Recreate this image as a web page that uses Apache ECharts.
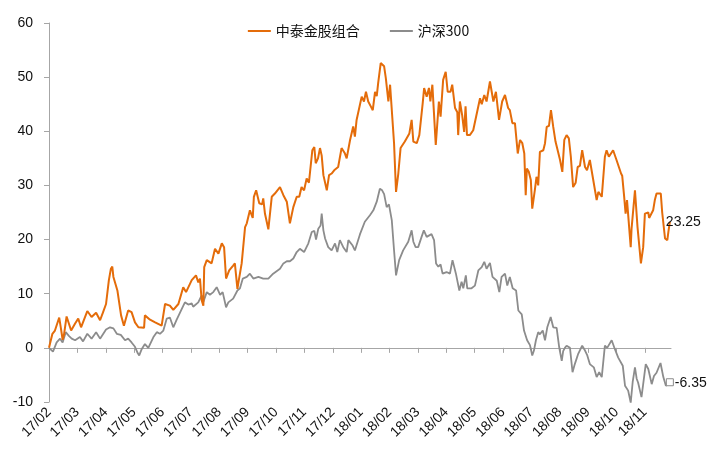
<!DOCTYPE html>
<html>
<head>
<meta charset="utf-8">
<script src="https://cdn.jsdelivr.net/npm/echarts@6/dist/echarts.min.js"></script>
<style>
  html, body { margin: 0; padding: 0; background: #fff; }
  #chart { width: 717px; height: 462px; }
</style>
</head>
<body>
<div id="chart"></div>
<script>
// month tick labels, x values are in months since 17/02
var monthLabels = ["17/02","17/03","17/04","17/05","17/06","17/07","17/08","17/09","17/10","17/11","17/12",
  "18/01","18/02","18/03","18/04","18/05","18/06","18/07","18/08","18/09","18/10","18/11"];

// 中泰金股组合 (cumulative return, %)
var portfolioT = [0,0.12,0.21,0.36,0.42,0.48,0.53,0.62,0.78,0.92,1.03,1.13,1.35,1.50,1.66,1.80,1.90,2.01,2.11,2.18,
  2.23,2.27,2.41,2.54,2.64,2.79,2.91,3.03,3.15,3.35,3.38,3.56,3.74,3.97,4.09,4.26,4.38,4.56,4.73,4.83,
  5.03,5.18,5.26,5.32,5.38,5.44,5.47,5.56,5.61,5.73,5.85,5.97,6.09,6.17,6.24,6.35,6.49,6.55,6.64,6.67,
  6.79,6.91,6.97,7.08,7.18,7.22,7.30,7.41,7.51,7.55,7.61,7.73,7.85,7.96,8.14,8.26,8.38,8.49,8.61,8.73,
  8.82,8.90,8.99,9.08,9.16,9.28,9.35,9.40,9.48,9.55,9.61,9.67,9.79,9.87,9.96,10.05,10.11,10.19,10.31,10.42,
  10.49,10.61,10.72,10.78,10.84,11.02,11.10,11.17,11.25,11.34,11.41,11.49,11.55,11.60,11.69,11.74,11.81,11.87,11.96,12.02,
  12.08,12.16,12.23,12.31,12.39,12.54,12.70,12.78,12.84,12.96,13.05,13.17,13.22,13.31,13.39,13.44,13.51,13.63,13.74,13.80,
  13.89,13.98,14.05,14.15,14.21,14.31,14.39,14.42,14.48,14.56,14.63,14.68,14.73,14.83,14.95,15.19,15.25,15.34,15.42,15.54,
  15.66,15.75,15.86,15.97,16.07,16.18,16.24,16.33,16.42,16.52,16.60,16.68,16.75,16.80,16.84,16.91,16.98,17.03,17.12,17.18,
  17.24,17.30,17.42,17.48,17.54,17.62,17.69,17.77,17.85,17.92,18.01,18.09,18.16,18.24,18.32,18.39,18.47,18.56,18.63,18.71,
  18.79,18.89,18.96,19.06,19.18,19.30,19.36,19.48,19.59,19.65,19.73,19.88,20.00,20.16,20.20,20.27,20.32,20.37,20.50,20.53,
  20.65,20.74,20.86,20.94,21.00,21.12,21.15,21.20,21.29,21.35,21.41,21.56,21.61,21.71,21.79,21.83,21.88];
var portfolioV = [0,2.6,3.2,5.6,3.6,1.5,2.5,5.8,3.2,4.5,5.4,3.8,6.8,5.7,6.5,5.1,6.5,8.1,12.5,14.6,
  15.0,13.1,10.6,6.0,4.1,6.9,6.6,4.7,3.8,3.7,6.0,5.2,4.7,4.1,8.1,7.8,7.0,8.1,11.2,10.3,
  12.5,13.4,12.1,12.8,8.8,7.8,14.9,16.2,15.9,15.6,18.3,17.4,19.3,18.6,12.8,14.3,15.2,15.6,10.9,11.9,
  15.6,22.3,23.0,25.4,24.0,27.9,29.1,26.7,26.5,27.6,24.8,21.9,27.9,28.5,29.7,28.2,27.0,23.0,26.0,27.9,
  27.9,29.7,29.1,31.3,30.5,36.5,37.1,34.1,35.0,36.9,35.5,31.9,29.1,31.9,32.2,32.8,32.5,33.4,36.9,36.0,
  35.0,38.4,40.9,39.0,42.1,46.4,45.5,47.3,45.5,44.6,43.9,47.3,46.5,48.9,52.6,52.9,52.0,49.8,45.5,48.6,
  48.9,37.8,28.8,32.2,36.9,38.1,39.6,42.1,38.1,37.8,39.3,45.2,48.0,46.4,48.0,45.5,48.6,37.5,45.5,42.7,
  49.5,51.0,47.3,47.3,48.6,44.3,43.5,39.3,45.5,43.0,39.9,44.6,39.3,39.3,40.2,46.1,45.0,46.7,45.5,49.2,
  45.5,47.3,42.1,45.5,46.7,44.3,43.9,41.5,41.5,35.9,38.4,37.8,35.9,28.2,33.1,32.5,31.0,25.7,29.1,31.6,
  30.0,36.2,36.5,37.8,40.8,41.0,43.9,40.8,38.1,37.8,34.7,32.5,38.4,39.3,38.7,35.3,29.7,30.5,33.4,33.6,
  36.5,33.4,32.8,34.7,31.0,27.3,28.8,27.9,35.3,36.5,35.3,36.5,34.7,32.2,31.8,27.9,24.8,27.3,18.6,22.0,
  29.1,22.3,15.6,18.6,24.8,25.0,24.0,23.9,25.4,27.3,28.5,28.5,25.0,20.2,19.9,21.5,23.25];

// 沪深300 (cumulative return, %)
var indexT = [0,0.14,0.27,0.39,0.48,0.59,0.70,0.80,0.92,1.09,1.20,1.35,1.50,1.66,1.80,2.01,2.15,2.27,2.39,2.53,
  2.68,2.79,2.91,3.03,3.13,3.18,3.27,3.38,3.50,3.68,3.80,3.91,4.03,4.15,4.26,4.38,4.50,4.68,4.79,4.91,
  5.03,5.08,5.26,5.38,5.44,5.56,5.67,5.79,5.91,6.03,6.12,6.24,6.32,6.49,6.64,6.73,6.83,6.97,7.08,7.20,
  7.38,7.55,7.73,7.90,8.14,8.26,8.38,8.49,8.61,8.73,8.84,8.99,9.14,9.26,9.35,9.41,9.49,9.57,9.61,9.67,
  9.73,9.84,9.96,10.08,10.16,10.25,10.37,10.49,10.55,10.70,10.78,10.96,11.13,11.31,11.43,11.55,11.66,11.74,11.81,11.90,
  11.98,12.08,12.16,12.23,12.34,12.48,12.66,12.78,12.84,12.92,13.01,13.13,13.21,13.31,13.37,13.48,13.57,13.64,13.72,13.80,
  13.87,14.01,14.13,14.22,14.34,14.46,14.54,14.60,14.69,14.74,14.89,15.01,15.13,15.25,15.34,15.42,15.54,15.63,15.78,15.87,
  15.95,16.07,16.15,16.24,16.34,16.46,16.54,16.66,16.74,16.81,16.85,16.95,17.03,17.09,17.16,17.24,17.30,17.40,17.48,17.56,
  17.68,17.77,17.89,17.98,18.07,18.12,18.18,18.24,18.36,18.45,18.53,18.65,18.79,18.89,18.97,19.06,19.20,19.30,19.39,19.48,
  19.59,19.67,19.83,19.94,20.06,20.22,20.30,20.41,20.50,20.57,20.65,20.71,20.76,20.88,20.94,21.03,21.12,21.24,21.32,21.41,
  21.55,21.65,21.74,21.88];
var indexV = [0,-0.7,1.0,1.7,1.0,2.9,2.2,1.7,1.4,2.0,1.2,2.6,1.7,2.9,1.7,3.4,3.8,3.6,2.6,2.4,
  1.4,1.7,1.0,0.2,-1.0,-1.4,-0.2,0.7,0,2.0,2.9,2.6,3.2,5.4,5.6,3.8,5.2,7.2,8.4,8.0,
  8.2,7.6,8.4,9.7,8.5,10.3,9.8,10.3,11.2,9.8,10.3,7.5,8.4,9.1,10.6,11.0,12.8,13.1,13.7,12.8,
  13.1,12.8,12.8,13.7,14.6,15.6,16.0,16.0,16.5,17.7,18.3,17.7,19.3,21.4,21.6,20.0,22.0,22.6,24.8,21.7,
  20.2,18.6,18.0,19.3,17.7,19.9,18.6,17.7,19.9,18.9,18.0,21.0,23.3,24.5,25.4,27.0,29.4,29.1,28.4,26.0,
  26.5,23.6,18.0,13.4,16.2,18.0,19.6,21.7,19.6,18.6,18.6,20.5,21.7,20.5,20.2,21.0,19.9,15.6,15.0,15.4,
  13.7,14.0,13.7,16.2,13.7,10.6,12.2,11.0,13.4,11.0,11.0,11.5,14.3,14.9,15.9,14.6,15.7,13.1,12.4,10.3,
  13.1,13.7,11.5,13.1,11.0,10.6,6.9,6.2,3.2,3.5,1.4,0.5,-1.4,-0.5,1.4,2.9,2.5,3.2,1.4,3.8,
  5.7,3.8,3.7,0.1,-2.4,-0.6,0,0.4,0,-4.5,-3.0,-1.1,0.4,-0.5,-1.4,-3.0,-3.6,-5.4,-4.5,-5.4,
  0.4,0.0,1.4,-0.2,-1.8,-3.3,-7.0,-7.9,-10.1,-6.3,-3.6,-5.7,-6.4,-9.1,-6.7,-3.0,-3.9,-6.7,-5.2,-4.6,
  -2.8,-5.4,-7.0,-6.35];

var orange = "#E46C0A";
var grey = "#8C8C8C";
var axisGrey = "#A6A6A6";

function zip(xs, ys) {
  var out = [];
  for (var i = 0; i < xs.length; i++) out.push([xs[i], ys[i]]);
  return out;
}

var tickIdx = monthLabels.map(function (_, i) { return i; });
var xMax = 21.92;

var myChart = echarts.init(document.getElementById("chart"), null, { renderer: "canvas" });
var option = {
  animation: false,
  grid: { left: 49, right: 46, top: 23, bottom: 60 },
  legend: {
    top: 19,
    left: "center",
    icon: "rect",
    itemWidth: 23,
    itemHeight: 2,
    itemGap: 30,
    textStyle: { fontSize: 14, color: "#111", fontFamily: "Noto Sans CJK SC" },
    data: ["中泰金股组合", "沪深300"],
  },
  xAxis: [
    {
      // zero line with month ticks
      type: "value",
      min: 0,
      max: xMax,
      interval: 1,
      position: "bottom",
      axisLine: { onZero: true, lineStyle: { color: axisGrey, width: 1 } },
      axisTick: { show: true, length: 5, customValues: tickIdx, lineStyle: { color: axisGrey } },
      axisLabel: { show: false },
      splitLine: { show: false },
    },
    {
      // month labels at the bottom
      type: "value",
      min: 0,
      max: xMax,
      interval: 1,
      position: "bottom",
      axisLine: { show: false, onZero: false },
      axisTick: { show: false },
      splitLine: { show: false },
      axisLabel: {
        customValues: tickIdx,
        rotate: 45,
        margin: 8,
        fontSize: 14,
        color: "#111",
        fontFamily: "Liberation Sans",
        formatter: function (v) {
          var i = Math.round(v);
          return Math.abs(v - i) < 1e-6 && monthLabels[i] ? monthLabels[i] : "";
        },
      },
    },
  ],
  yAxis: {
    type: "value",
    min: -10,
    max: 60,
    interval: 10,
    axisLine: { show: true, lineStyle: { color: axisGrey, width: 1 } },
    axisTick: { show: true, length: 5, lineStyle: { color: axisGrey } },
    splitLine: { show: false },
    axisLabel: { margin: 16, fontSize: 14, color: "#111", fontFamily: "Liberation Sans" },
  },
  series: [
    {
      name: "中泰金股组合",
      type: "line",
      xAxisIndex: 0,
      data: zip(portfolioT, portfolioV),
      symbol: "none",
      lineStyle: { color: orange, width: 2 },
      itemStyle: { color: orange },
      endLabel: {
        show: true,
        offset: [-12, 0],
        fontSize: 14,
        color: "#111",
        fontFamily: "Liberation Sans",
        formatter: function (p) { return p.value[1].toFixed(2); },
      },
      z: 3,
    },
    {
      name: "沪深300",
      type: "line",
      xAxisIndex: 0,
      data: zip(indexT, indexV),
      symbol: "none",
      lineStyle: { color: grey, width: 1.8 },
      itemStyle: { color: grey },
      endLabel: {
        show: true,
        offset: [-3, 1],
        fontSize: 14,
        color: "#111",
        fontFamily: "Liberation Sans",
        formatter: function (p) { return p.value[1].toFixed(2); },
      },
      markPoint: {
        symbol: "rect",
        symbolSize: 7,
        silent: true,
        itemStyle: { color: "#fff", borderColor: grey, borderWidth: 1 },
        label: { show: false },
        data: [{ coord: [indexT[indexT.length - 1], indexV[indexV.length - 1]] }],
      },
      z: 2,
    },
  ],
};
myChart.setOption(option);
</script>
</body>
</html>
